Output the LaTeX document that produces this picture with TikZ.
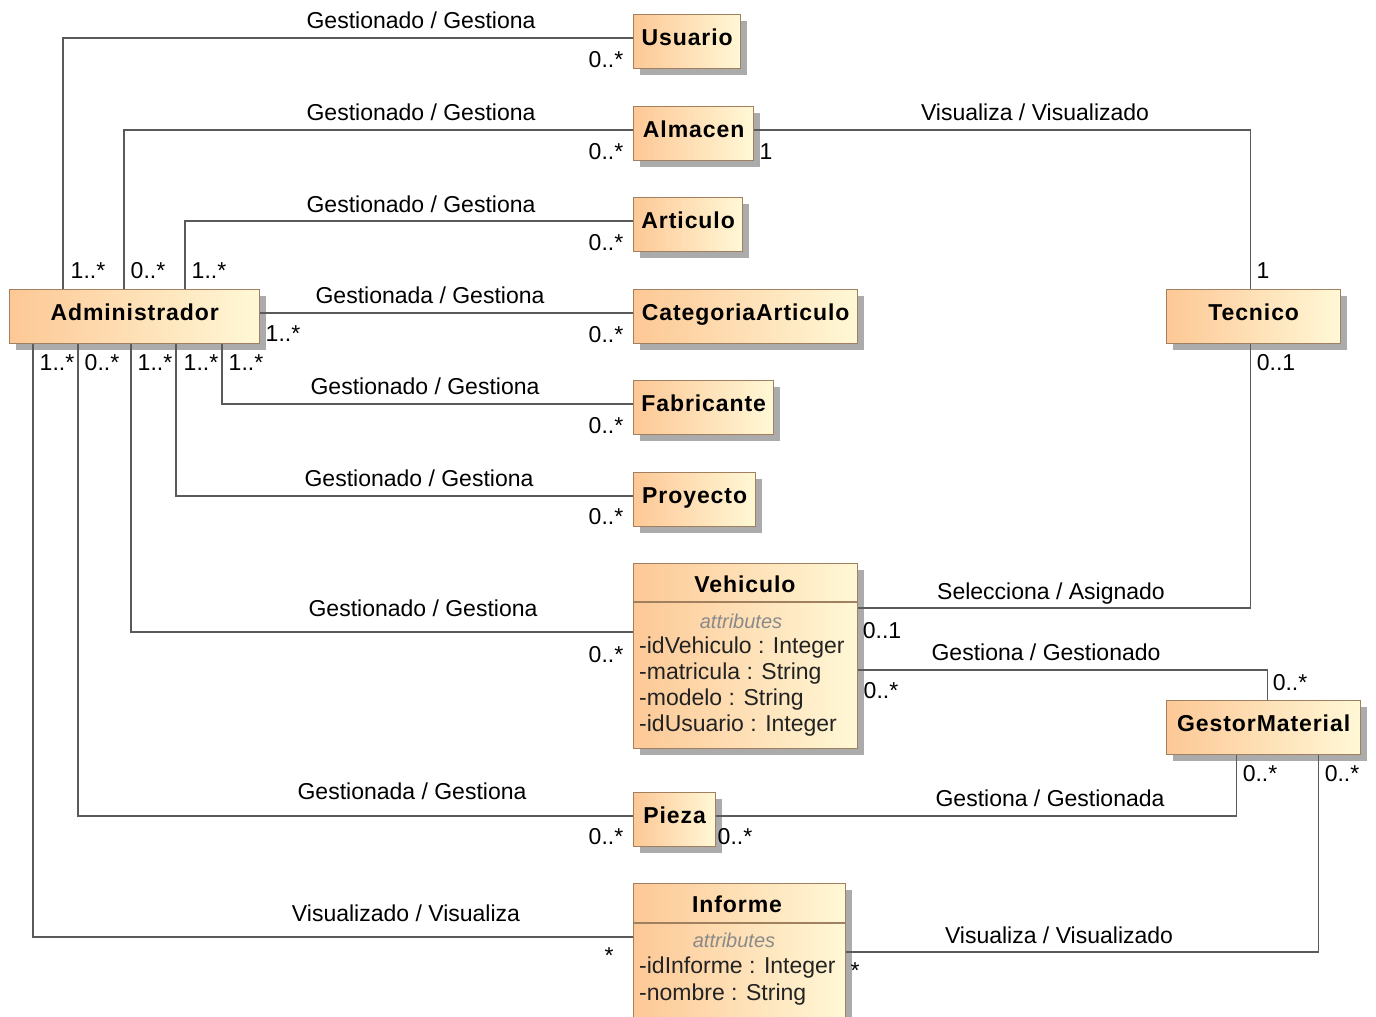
\documentclass[tikz,border=0pt]{standalone}
\usepackage{fontspec}
\setmainfont{Liberation Sans}
\newfontfamily\clsfont[LetterSpace=4.0]{Liberation Sans}
\usetikzlibrary{shadows}
\definecolor{cA}{HTML}{FDC896}
\definecolor{cB}{HTML}{FFF8D6}
\definecolor{bord}{HTML}{A0805E}
\definecolor{lin}{HTML}{5A5A5A}
\definecolor{shd}{HTML}{ABABAB}
\definecolor{attc}{HTML}{222222}
\definecolor{atth}{HTML}{8A8A8A}
\begin{document}
\begin{tikzpicture}[x=1pt,y=-1pt,
  shadowed/.style={drop shadow={shadow xshift=6pt,shadow yshift=-6pt,fill=shd,opacity=1}},
  cls/.style={draw=bord,line width=1.3pt,left color=cA,right color=cB,shadowed,
    anchor=north west,inner xsep=0pt,inner ysep=14pt,text height=17pt,text depth=9pt,
    font=\clsfont\bfseries\fontsize{23}{27}\selectfont},
  clsbox/.style={draw=bord,line width=1.3pt,left color=cA,right color=cB,shadowed,
    anchor=north west,inner sep=0pt},
  clsname/.style={anchor=base,inner sep=0pt,font=\clsfont\bfseries\fontsize{23}{27}\selectfont},
  sepline/.style={draw=bord,line width=1.1pt},
  atthead/.style={anchor=base,inner sep=0pt,text=atth,font=\itshape\fontsize{20}{24}\selectfont},
  attr/.style={anchor=base west,inner sep=0pt,text=attc,font=\fontsize{23}{27}\selectfont},
  assoc/.style={draw=lin,line width=1.5pt},
  lbl/.style={anchor=base,inner sep=0pt,font=\fontsize{23}{27}\selectfont},
]
\useasboundingbox (0,0) rectangle (1376,1017);

% ---------- classes ----------
\node[cls,minimum width=107pt] (usu) at (633,14) {Usuario};
\node[cls,minimum width=120pt] (alm) at (633,106) {Almacen};
\node[cls,minimum width=109pt] (art) at (633,197) {Articulo};
\node[cls,minimum width=224pt] (cat) at (633,289) {CategoriaArticulo};
\node[cls,minimum width=140pt] (fab) at (633,380) {Fabricante};
\node[cls,minimum width=122pt] (pro) at (633,472) {Proyecto};
\node[cls,minimum width=82pt]  (pie) at (633,792) {Pieza};
\node[cls,minimum width=250pt] (adm) at (9,289) {Administrador};
\node[cls,minimum width=174pt] (tec) at (1166,289) {Tecnico};
\node[cls,minimum width=194pt] (gm)  at (1166,700) {GestorMaterial};

% Vehiculo
\node[clsbox,minimum width=224pt,minimum height=185pt] (veh) at (633,563) {};
\draw[sepline] ([yshift=-39pt]veh.north west) -- ([yshift=-39pt]veh.north east);
\node[clsname] (vehT) at (745,592.5) {Vehiculo};
\node[atthead] (vehH) at (741,628) {attributes};
\node[attr] (veh1) at (639,653) {-idVehiculo : Integer};
\node[attr] (veh2) at (639,679) {-matricula : String};
\node[attr] (veh3) at (639,705) {-modelo : String};
\node[attr] (veh4) at (639,731) {-idUsuario : Integer};

% Informe
\node[clsbox,minimum width=212pt,minimum height=150pt] (inf) at (633,883) {};
\draw[sepline] ([yshift=-40pt]inf.north west) -- ([yshift=-40pt]inf.north east);
\node[clsname] (infT) at (737,912) {Informe};
\node[atthead] (infH) at (734,947) {attributes};
\node[attr] (inf1) at (639,973) {-idInforme : Integer};
\node[attr] (inf2) at (639,1000) {-nombre : String};

% ---------- connectors ----------
\draw[assoc] ([xshift=54pt]adm.north west)  |- ([yshift=3.5pt]usu.west);
\draw[assoc] ([xshift=115pt]adm.north west) |- ([yshift=3.5pt]alm.west);
\draw[assoc] ([xshift=176pt]adm.north west) |- ([yshift=3.5pt]art.west);
\draw[assoc] ([yshift=3.5pt]adm.east) -- ([yshift=3.5pt]cat.west);
\draw[assoc] ([xshift=213pt]adm.south west) |- ([yshift=3.5pt]fab.west);
\draw[assoc] ([xshift=167pt]adm.south west) |- ([yshift=3.5pt]pro.west);
\draw[assoc] ([xshift=122pt]adm.south west) |- ([yshift=-69pt]veh.north west);
\draw[assoc] ([xshift=69pt]adm.south west)  |- ([yshift=3.5pt]pie.west);
\draw[assoc] ([xshift=24pt]adm.south west)  |- ([yshift=-54pt]inf.north west);

\draw[assoc] ([yshift=3.5pt]alm.east) -| ([xshift=-3pt]tec.north);
\draw[assoc] ([xshift=-3pt]tec.south) |- ([yshift=-45pt]veh.north east);
\draw[assoc] ([yshift=-107pt]veh.north east) -| ([xshift=4pt]gm.north);
\draw[assoc] ([yshift=3.5pt]pie.east) -| ([xshift=-27pt]gm.south);
\draw[assoc] ([yshift=-69pt]inf.north east) -| ([xshift=55pt]gm.south);

% ---------- association names ----------
\node[lbl] (n1) at (421,28.5) {Gestionado / Gestiona};
\node[lbl] (n2) at (421,120.5) {Gestionado / Gestiona};
\node[lbl] (n3) at (421,212.5) {Gestionado / Gestiona};
\node[lbl] (n4) at (430,303.5) {Gestionada / Gestiona};
\node[lbl] (n5) at (425,394.5) {Gestionado / Gestiona};
\node[lbl] (n6) at (419,486.5) {Gestionado / Gestiona};
\node[lbl] (n7) at (423,616.5) {Gestionado / Gestiona};
\node[lbl] (n8) at (412,799.5) {Gestionada / Gestiona};
\node[lbl] (n9) at (406,921.5) {Visualizado / Visualiza};
\node[lbl] (n10) at (1035,120.5) {Visualiza / Visualizado};
\node[lbl] (n11) at (1051,599.5) {Selecciona / Asignado};
\node[lbl] (n12) at (1046,660.5) {Gestiona / Gestionado};
\node[lbl] (n13) at (1050,806.5) {Gestiona / Gestionada};
\node[lbl] (n14) at (1059,943.5) {Visualiza / Visualizado};

% ---------- multiplicities ----------
\node[lbl] (m1) at (606,67.5) {0..*};
\node[lbl] (m2) at (606,159.5) {0..*};
\node[lbl] (m3) at (606,250.5) {0..*};
\node[lbl] (m4) at (606,342.5) {0..*};
\node[lbl] (m5) at (606,433.5) {0..*};
\node[lbl] (m6) at (606,524.5) {0..*};
\node[lbl] (m7) at (606,662.5) {0..*};
\node[lbl] (m8) at (606,844.5) {0..*};
\node[lbl] (m9) at (609,963.5) {*};
\node[lbl] (m10) at (88,278.5) {1..*};
\node[lbl] (m11) at (148,278.5) {0..*};
\node[lbl] (m12) at (209,278.5) {1..*};
\node[lbl] (m13) at (283,341.5) {1..*};
\node[lbl] (m14) at (57,370.5) {1..*};
\node[lbl] (m15) at (102,370.5) {0..*};
\node[lbl] (m16) at (155,370.5) {1..*};
\node[lbl] (m17) at (201,370.5) {1..*};
\node[lbl] (m18) at (246,370.5) {1..*};
\node[lbl] (m19) at (766,159.5) {1};
\node[lbl] (m20) at (1263,278.5) {1};
\node[lbl] (m21) at (1276,370.5) {0..1};
\node[lbl] (m22) at (882,638.5) {0..1};
\node[lbl] (m23) at (881,698.5) {0..*};
\node[lbl] (m24) at (1290,690.5) {0..*};
\node[lbl] (m25) at (735,844.5) {0..*};
\node[lbl] (m26) at (1260,781.5) {0..*};
\node[lbl] (m27) at (1342,781.5) {0..*};
\node[lbl] (m28) at (855,978.5) {*};
\end{tikzpicture}
\end{document}
